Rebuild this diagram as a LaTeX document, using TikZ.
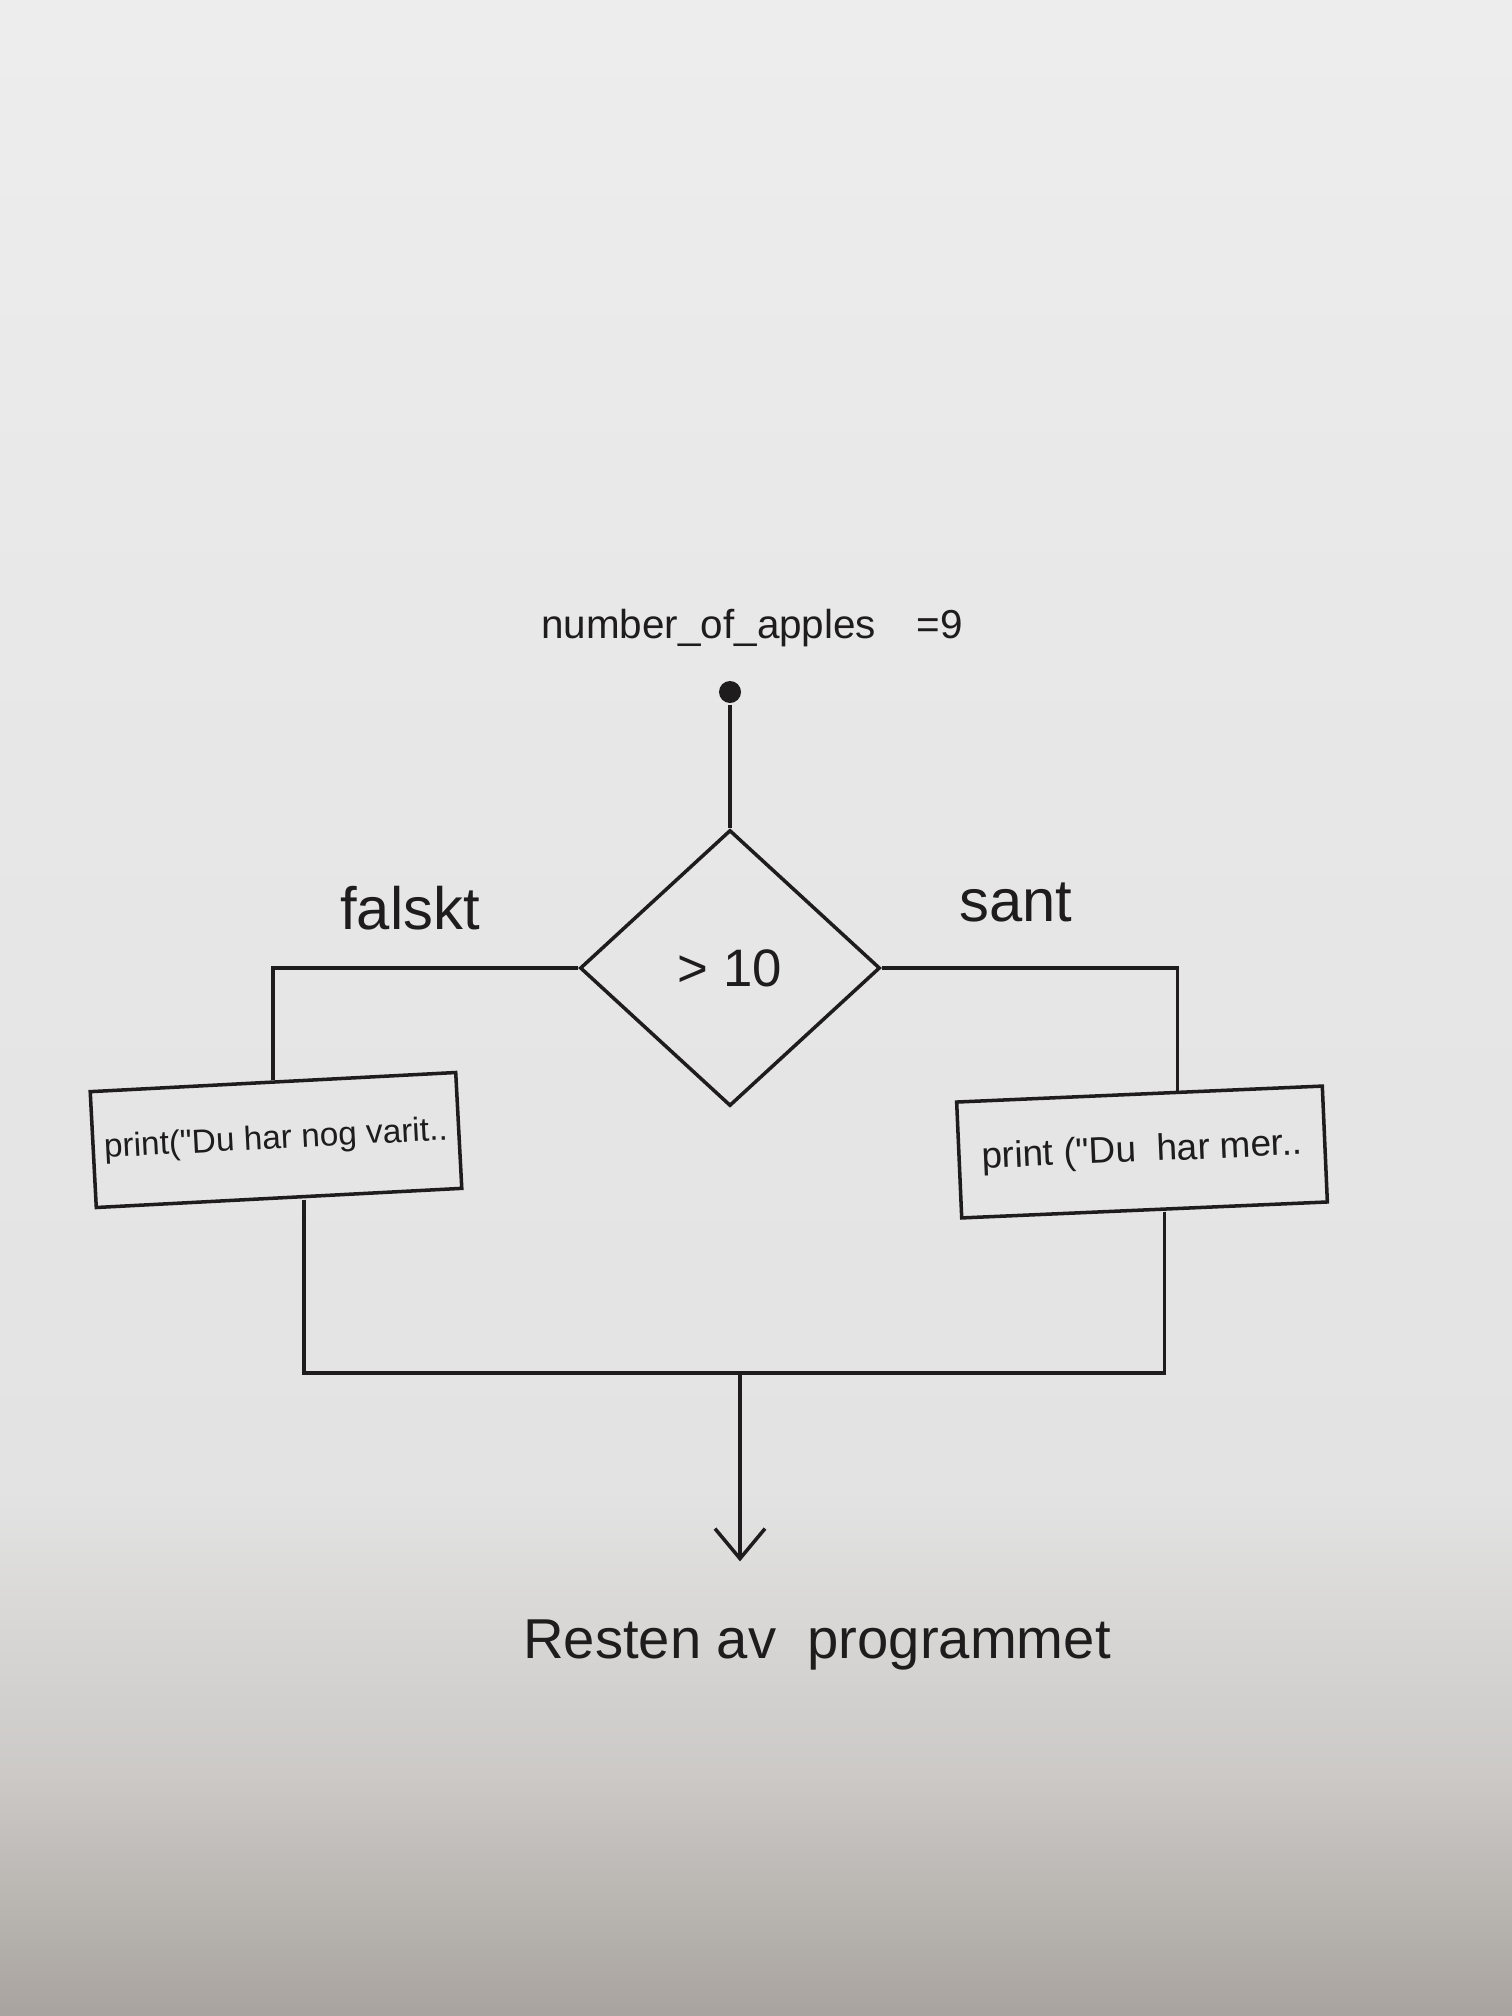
\documentclass[tikz,border=0pt]{standalone}
\usepackage{fontspec}
\setmainfont{Liberation Sans}
\usepackage{xcolor}
\usetikzlibrary{arrows.meta, positioning, calc, shapes.geometric}

\definecolor{ink}{RGB}{30,28,28}

\pgfdeclareverticalshading{paper}{100bp}{
	rgb(0bp)=(0.66,0.64,0.62);
	rgb(25bp)=(0.66,0.64,0.62);
	rgb(31bp)=(0.80,0.79,0.78);
	rgb(38bp)=(0.89,0.89,0.89);
	rgb(60bp)=(0.91,0.91,0.91);
	rgb(75bp)=(0.93,0.93,0.93);
	rgb(100bp)=(0.93,0.93,0.93)}

\begin{document}
\begin{tikzpicture}[
		x=0.1mm, y=-0.1mm,
		line width=1pt,
		color=ink,
		>={Straight Barb[length=3mm, width=5mm]},
		decision/.style={
				diamond,
				minimum width = 30mm,
				minimum height = 27.6mm,
				inner sep=0pt,
				draw=ink,
				font=\fontsize{15}{18}\selectfont
			},
		printbox/.style={
				rectangle,
				minimum width = 36.6mm,
				minimum height = 11.6mm,
				inner sep=1mm,
				draw=ink,
				font=\fontsize{9.5}{12}\selectfont
			},
		handtext/.style={
				text=ink,
				font=\fontsize{17}{20}\selectfont
			},
		]

		\shade[shading=paper] (0,0) rectangle (1512,2016);

		\useasboundingbox (0,0) rectangle (1512,2016);

		\node[handtext, font=\fontsize{11.5}{14}\selectfont] (init) at (752,628) {number\_of\_apples\quad=9};

		\node[circle, fill=ink, inner sep=0pt, minimum size=2.2mm] (start) at (730,692) {};

		\node[decision] (check) at (730,968) {> 10};

		\node[handtext] (nolabel) at (410,908) {falskt};

		\node[handtext] (yeslabel) at (1016,902) {sant};

		\node[printbox, rotate=3] (falsebox) at (276,1140) {print(\textquotedbl Du har nog varit..};

		\node[printbox, rotate=2.5, font=\fontsize{10.5}{12}\selectfont] (truebox) at (1142,1152) {print (\textquotedbl Du\ \ har mer..};

		\node[handtext, font=\fontsize{16}{19}\selectfont] (rest) at (817,1645) {Resten\ av\ \ programmet};

		\coordinate (merge) at (740,1373);

		\draw (start) -- (check.north);

		\draw (check.west) -| (falsebox.north);

		\draw (check.east) -| ([xshift=3.8mm]truebox.north);

		\draw ([xshift=2.5mm]falsebox.south) |- (merge);

		\draw ([xshift=2mm]truebox.south) |- (merge);

		\draw[->, shorten >=4.5mm] (merge) -- (merge |- rest.north);

	\end{tikzpicture}
\end{document}
